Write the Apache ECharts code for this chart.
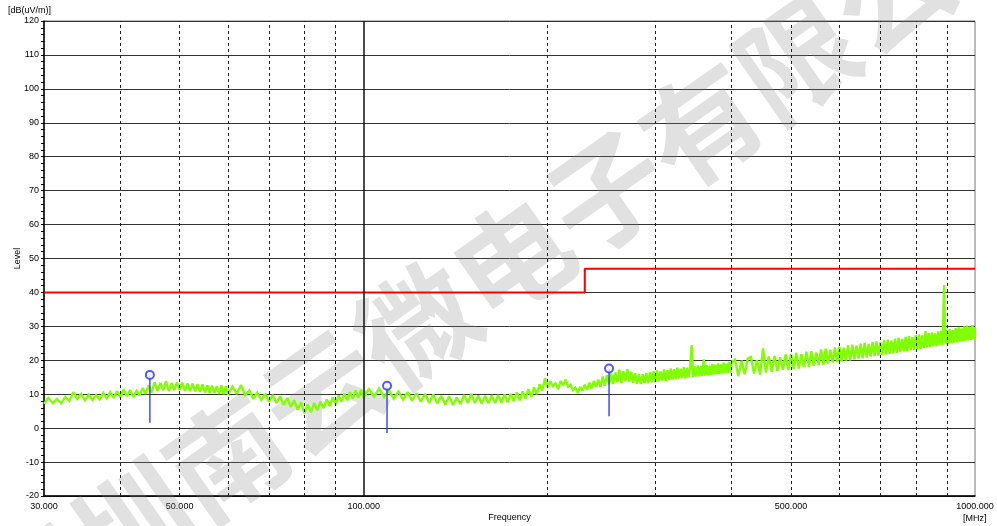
<!DOCTYPE html>
<html>
<head>
<meta charset="utf-8">
<script src="https://cdn.jsdelivr.net/npm/echarts@6/dist/echarts.min.js"></script>
<style>
  html, body { margin: 0; padding: 0; background: #fff; }
  #chart { width: 997px; height: 526px; }
</style>
</head>
<body>
<div id="chart"></div>
<script>
// Sweep frequencies [MHz] of the measured trace
const traceFreq = [
  30, 30.5, 31, 31.5, 32, 32.5, 33, 33.5, 34, 34.5,
  35, 35.5, 36, 36.5, 37, 37.5, 38, 38.5, 39, 39.5,
  40, 40.5, 41, 41.5, 42, 42.5, 43, 43.5, 44, 44.5,
  45, 45.5, 46, 46.5, 47, 47.5, 48, 48.5, 49, 49.5,
  50, 50.5, 51, 51.5, 52, 52.5, 53, 53.5, 54, 54.5,
  55, 55.5, 56, 56.5, 57, 57.5, 58, 58.5, 59, 59.5,
  60,
  61, 62, 63, 64, 65, 66, 67, 68, 69, 70,
  71, 72, 73, 74, 75, 76, 77, 78, 79, 80,
  81, 82, 83, 84, 85, 86, 87, 88, 89, 90,
  91, 92, 93, 94, 95, 96, 97, 98, 99, 100,
  102, 104, 106, 108, 110, 112, 114, 116, 118, 120,
  122, 124, 126, 128, 130, 132, 134, 136, 138, 140,
  142, 144, 146, 148, 150, 152, 154, 156, 158, 160,
  162, 164, 166, 168, 170, 172, 174, 176, 178, 180,
  182, 184, 186, 188, 190, 192, 194, 196, 198, 200,
  202, 204, 206, 208, 210, 212, 214, 216, 218, 220,
  222, 224, 226, 228, 230, 232, 234, 236, 238, 240,
  242, 244, 246, 248, 250, 252, 254, 256, 258, 260,
  262, 264, 266, 268, 270, 272, 274, 276, 278, 280,
  282, 284, 286, 288, 290, 292, 294, 296, 298, 300,
  302, 304, 306, 308, 310, 312, 314, 316, 318, 320,
  322, 324, 326, 328, 330, 332, 334, 336, 338, 340,
  342, 344, 346, 348, 350, 352, 354, 356, 358, 360,
  362, 364, 366, 368, 370, 372, 374, 376, 378, 380,
  382, 384, 386, 388, 390, 392, 394, 396, 398, 400,
  405, 410, 415, 420, 425, 430, 435, 440, 445, 450,
  455, 460, 465, 470, 475, 480, 485, 490, 495, 500,
  505, 510, 515, 520, 525, 530, 535, 540, 545, 550,
  555, 560, 565, 570, 575, 580, 585, 590, 595, 600,
  605, 610, 615, 620, 625, 630, 635, 640, 645, 650,
  655, 660, 665, 670, 675, 680, 685, 690, 695, 700,
  705, 710, 715, 720, 725, 730, 735, 740, 745, 750,
  755, 760, 765, 770, 775, 780, 785, 790, 795, 800,
  805, 810, 815, 820, 825, 830, 835, 840, 845, 850,
  855, 860, 865, 870, 875, 880, 885, 890, 895, 900,
  905, 910, 915, 920, 925, 930, 935, 940, 945, 950,
  955, 960, 965, 970, 975, 980, 985, 990, 995, 1000
];

// Measured level [dB(uV/m)] at each sweep frequency
const traceLevel = [
  7.2, 8.9, 7.4, 8.6, 7.3, 9.2, 8.0, 10.6, 8.6, 10.1,
  8.2, 9.9, 8.3, 9.8, 8.5, 10.4, 8.8, 10.6, 8.9, 10.9,
  9.1, 11.5, 9.4, 11.2, 9.2, 11.0, 9.7, 11.8, 10.1, 12.6,
  10.5, 13.6, 11.0, 13.3, 11.2, 13.9, 10.9, 13.3, 11.2, 13.5,
  11.3, 13.4, 11.0, 13.2, 10.9, 13.1, 10.8, 13.0, 10.7, 12.9,
  10.5, 12.7, 10.4, 12.5, 10.3, 12.4, 10.1, 12.6, 10.0, 12.3,
  9.9,
  12.2, 10.1, 12.7, 9.7, 11.1, 8.7, 10.5, 8.3, 10.1, 7.8,
  9.8, 7.4, 9.4, 6.9, 8.9, 6.3, 8.3, 5.4, 7.6, 4.4,
  6.9, 4.7, 7.4, 5.3, 7.8, 5.9, 8.5, 6.5, 9.1, 7.1,
  9.6, 7.8, 10.1, 8.2, 10.6, 8.7, 11.1, 8.9, 11.3, 9.1,
  11.5, 9.3, 11.7, 9.1, 11.2, 8.7, 10.8, 8.4, 10.6, 8.1,
  10.3, 7.8, 10.1, 7.5, 9.9, 7.3, 9.5, 7.0, 9.3, 6.8,
  9.0, 7.1, 9.8, 7.5, 10.1, 7.4, 9.6, 7.2, 9.5, 7.3,
  9.7, 7.4, 9.8, 7.5, 9.9, 7.6, 10.1, 7.9, 10.5, 8.2,
  10.8, 8.7, 11.5, 9.3, 12.0, 10.0, 12.9, 11.1, 14.7, 12.1,
  13.8, 12.4, 13.2, 11.5, 13.9, 12.6, 14.3, 12.2, 12.8, 11.2,
  11.9, 10.4, 12.2, 11.0, 12.8, 11.3, 13.4, 11.7, 13.9, 12.2,
  14.3, 12.1, 15.2, 12.5, 15.6, 12.9, 16.1, 13.1, 16.4, 13.5,
  17.2, 13.3, 16.8, 13.9, 17.4, 13.7, 16.6, 13.4, 16.2, 13.1,
  16.0, 13.0, 15.9, 13.3, 16.3, 13.2, 16.5, 13.5, 16.8, 13.6,
  17.0, 13.8, 16.7, 14.0, 17.3, 13.9, 17.1, 14.2, 17.6, 14.3,
  17.4, 14.5, 17.8, 14.6, 17.5, 14.8, 18.0, 14.7, 17.8, 15.0,
  18.1, 24.5, 15.1, 18.2, 15.2, 18.5, 15.3, 18.3, 15.4, 20.3,
  15.5, 18.6, 15.6, 18.4, 15.7, 18.9, 15.8, 18.7, 15.9, 19.1,
  16.0, 18.8, 16.1, 19.3, 16.2, 19.0, 16.3, 19.5, 16.4, 19.6,
  20.2, 15.4, 19.9, 15.9, 20.6, 21.0, 16.1, 20.1, 15.8, 23.5,
  16.4, 21.1, 16.6, 21.3, 16.8, 20.9, 17.2, 21.7, 17.1, 21.9,
  17.5, 22.2, 17.6, 21.8, 18.0, 22.5, 18.1, 22.7, 18.4, 22.3,
  18.6, 23.2, 18.7, 23.4, 19.0, 23.1, 19.3, 23.8, 19.4, 24.0,
  19.7, 23.7, 19.9, 24.4, 20.0, 24.6, 20.3, 24.3, 20.5, 24.9,
  20.6, 25.1, 20.8, 24.8, 21.1, 25.4, 21.2, 25.6, 21.4, 25.3,
  21.6, 25.9, 21.7, 26.1, 21.9, 25.8, 22.1, 26.4, 22.2, 26.6,
  22.4, 26.3, 22.6, 26.9, 22.7, 27.1, 22.9, 26.8, 23.1, 27.4,
  23.2, 27.6, 23.4, 27.3, 23.6, 28.6, 23.7, 28.0, 23.9, 28.2,
  24.1, 27.9, 24.2, 28.5, 24.4, 28.7, 24.5, 42.2, 24.7, 28.9,
  24.9, 29.2, 25.0, 28.9, 25.2, 29.5, 25.3, 29.7, 25.5, 29.4,
  25.6, 30.0, 25.7, 30.2, 25.9, 29.9, 26.0, 30.4, 26.2, 29.5
];

// Limit line (step at 230 MHz)
const limitFreq = [30, 230, 230, 1000];
const limitLevel = [40, 40, 47, 47];

// Final measurement markers
const markerFreq = [44.7, 109.2, 252];
const markerLevel = [15.7, 12.5, 17.6];
const markerBase = [1.6, -1.4, 3.5];

// Axis ticks
const xLabelValues = [30, 50, 100, 500, 1000];
const xDashedGrid = [40, 50, 60, 70, 80, 90, 200, 300, 400, 500, 600, 700, 800, 900];
const xSolidGrid = [100];
const yMin = -20, yMax = 120, yStep = 10;

const FONT = '"Liberation Sans", Arial, sans-serif';

const chart = echarts.init(document.getElementById('chart'), null, { renderer: 'canvas' });

const zip = (xs, ys) => xs.map((x, i) => [x, ys[i]]);

const markerSeries = markerFreq.map((f, i) => ({
  type: 'line',
  data: [[f, markerBase[i]], [f, markerLevel[i]]],
  showSymbol: false,
  silent: true,
  lineStyle: { color: '#2233ff', width: 1.3 },
  z: 4
}));

const option = {
  animation: false,
  backgroundColor: '#ffffff',
  grid: {
    left: 44, right: 22, top: 21, bottom: 30,
    containLabel: false,
    outerBoundsMode: 'none',
    show: true, borderColor: '#777', borderWidth: 1
  },
  xAxis: {
    type: 'log',
    logBase: 10,
    min: 30,
    max: 1000,
    name: 'Frequency',
    nameLocation: 'middle',
    nameGap: 17,
    nameMoveOverlap: false,
    nameTextStyle: { fontFamily: FONT, fontSize: 9, color: '#000' },
    axisLine: { show: true, onZero: false, lineStyle: { color: '#000', width: 1.5 } },
    axisTick: { show: false },
    axisLabel: {
      customValues: xLabelValues,
      formatter: v => Number(v).toFixed(3),
      fontFamily: FONT, fontSize: 9, color: '#000', margin: 6,
      showMinLabel: true, showMaxLabel: true
    },
    splitLine: { show: false },
    minorTick: { show: false },
    minorSplitLine: { show: false }
  },
  yAxis: {
    type: 'value',
    min: yMin,
    max: yMax,
    interval: yStep,
    name: 'Level',
    nameLocation: 'middle',
    nameGap: 22,
    nameRotate: 90,
    nameMoveOverlap: false,
    nameTextStyle: { fontFamily: FONT, fontSize: 9, color: '#000' },
    axisLine: { show: true, lineStyle: { color: '#000', width: 1.5 } },
    axisTick: { show: true, inside: false, length: 3, lineStyle: { color: '#000' } },
    minorTick: { show: true, splitNumber: 5, length: 3, lineStyle: { color: '#000' } },
    axisLabel: { fontFamily: FONT, fontSize: 9, color: '#000', margin: 5 },
    splitLine: { show: true, lineStyle: { color: '#333', width: 1 } }
  },
  graphic: [
    {
      type: 'text',
      x: 512, y: 258,
      rotation: 35 * Math.PI / 180,
      z: 1,
      silent: true,
      style: {
        text: '深圳南云微电子有限公司',
        font: 'bold 116px "Noto Sans CJK SC"',
        fill: 'rgba(128,128,128,0.24)',
        textAlign: 'center',
        textVerticalAlign: 'middle',
        align: 'center',
        verticalAlign: 'middle'
      }
    },
    {
      type: 'text', left: 8, top: 6,
      style: { text: '[dB(uV/m)]', font: '9px ' + FONT, fill: '#000' }
    },
    {
      type: 'text', left: 963, top: 514,
      style: { text: '[MHz]', font: '9px ' + FONT, fill: '#000' }
    }
  ],
  series: [
    {
      // vertical grid lines
      type: 'line',
      data: [],
      silent: true,
      z: 1,
      markLine: {
        silent: true,
        symbol: ['none', 'none'],
        label: { show: false },
        animation: false,
        data: xDashedGrid.map(v => ({ xAxis: v, lineStyle: { type: [3, 3], color: '#222', width: 1 } }))
          .concat(xSolidGrid.map(v => ({ xAxis: v, lineStyle: { type: 'solid', color: '#111', width: 1.5 } })))
      }
    },
    {
      name: 'Limit',
      type: 'line',
      data: zip(limitFreq, limitLevel),
      showSymbol: false,
      silent: true,
      lineStyle: { color: '#ff0000', width: 2 },
      z: 3
    },
    {
      name: 'Level',
      type: 'line',
      data: zip(traceFreq, traceLevel),
      showSymbol: false,
      silent: true,
      lineStyle: { color: '#7fff00', width: 2.4, join: 'miter', miterLimit: 2 },
      z: 3
    },
    ...markerSeries,
    {
      type: 'scatter',
      data: zip(markerFreq, markerLevel),
      symbol: 'emptyCircle',
      symbolSize: 8,
      silent: true,
      itemStyle: { color: '#2233ff', borderColor: '#2233ff', borderWidth: 1.3 },
      z: 5
    }
  ]
};

chart.setOption(option);
</script>
</body>
</html>
